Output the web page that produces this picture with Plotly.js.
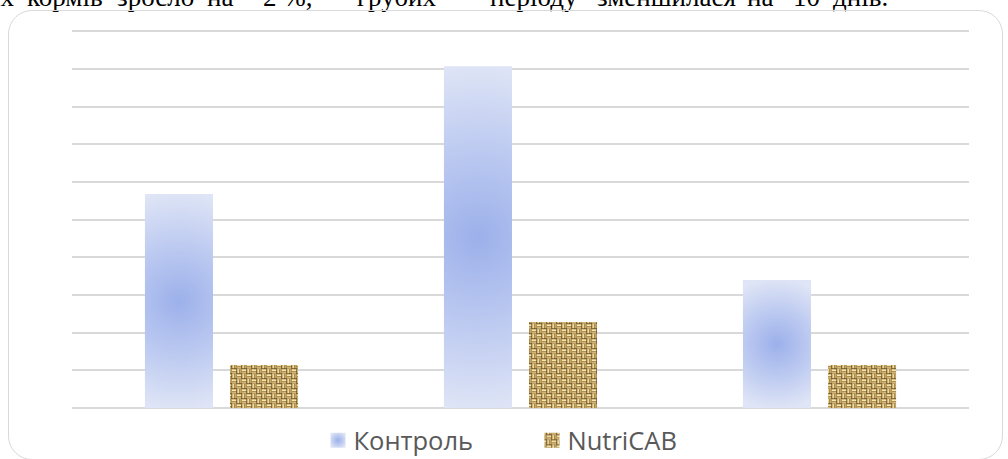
<!DOCTYPE html>
<html>
<head>
<meta charset="utf-8">
<script src="https://cdn.plot.ly/plotly-3.0.1.min.js"></script>
<style>
  html, body { margin:0; padding:0; background:#ffffff; width:1008px; height:459px; overflow:hidden; }
  #frame { position:absolute; left:8px; top:10px; width:993px; height:448px; border:1.6px solid #d9d9d9; border-radius:24px; box-sizing:content-box; }
  #chart { position:absolute; left:0; top:0; width:1008px; height:459px; }
  .w { position:absolute; top:-17px; font-family:"Liberation Serif","Times New Roman",serif; font-size:27px; line-height:28px; color:#000; white-space:pre; }
</style>
</head>
<body>
<div id="toptext"></div>
<div id="frame"></div>
<div id="chart"></div>
<script>
// ---- data ----
const categories = ['1', '2', '3'];
const seriesNames = ['Контроль', 'NutriCAB'];
const kontrol = [5.68, 9.07, 3.40];
const nutricab = [1.14, 2.28, 1.14];
const topWords = ['их', 'кормів', 'зросло', 'на', '2 %,', 'грубих', 'періоду', 'зменшилася', 'на', '10', 'днів.'];
const topWordX = [-14, 27, 117, 207, 263, 357, 490, 597, 747, 793, 833];

// cut-off line of body text above the chart
const tt = document.getElementById('toptext');
topWords.forEach((w, i) => {
  const s = document.createElement('div');
  s.className = 'w';
  s.style.left = topWordX[i] + 'px';
  s.textContent = w;
  tt.appendChild(s);
});

const traces = [
  { type: 'bar', name: seriesNames[0], x: categories, y: kontrol,
    marker: { color: '#bccaf0', line: { width: 0 } }, hoverinfo: 'none' },
  { type: 'bar', name: seriesNames[1], x: categories, y: nutricab,
    marker: { color: '#c4a467', line: { width: 0 } }, hoverinfo: 'none' }
];

const layout = {
  width: 1008, height: 459,
  margin: { l: 72, r: 39, t: 29, b: 51 },
  paper_bgcolor: 'rgba(0,0,0,0)',
  plot_bgcolor: 'rgba(0,0,0,0)',
  barmode: 'group',
  bargap: 0.431,
  bargroupgap: 0.2,
  showlegend: true,
  legend: {
    orientation: 'h', xref: 'container', yref: 'container',
    x: 0.311, xanchor: 'left', y: 0.04, yanchor: 'middle',
    font: { family: '"Open Sans", sans-serif', size: 25.5, color: '#595959' },
    entrywidth: 169, bgcolor: 'rgba(0,0,0,0)'
  },
  xaxis: { showticklabels: false, showgrid: false, zeroline: false, showline: false, ticks: '', fixedrange: true },
  yaxis: { range: [0, 10.06], tickvals: [0,1,2,3,4,5,6,7,8,9,10], showticklabels: false, showgrid: true, gridcolor: '#d9d9d9', gridwidth: 1.8,
           zeroline: true, zerolinecolor: '#d9d9d9', zerolinewidth: 1.8, showline: false, ticks: '', fixedrange: true }
};

const gd = document.getElementById('chart');
Plotly.newPlot(gd, traces, layout, { displayModeBar: false, staticPlot: true }).then(decorate);

function decorate() {
  const NS = 'http://www.w3.org/2000/svg';
  const svg = gd.querySelector('svg.main-svg');
  let defs = svg.querySelector('defs');
  if (!defs) { defs = document.createElementNS(NS, 'defs'); svg.insertBefore(defs, svg.firstChild); }

  function el(tag, attrs, parent) {
    const e = document.createElementNS(NS, tag);
    for (const k in attrs) e.setAttribute(k, attrs[k]);
    if (parent) parent.appendChild(e);
    return e;
  }
  function addStops(g) {
    el('stop', { offset: '0', 'stop-color': '#9cb0ea' }, g);
    el('stop', { offset: '0.45', 'stop-color': '#b9c7f0' }, g);
    el('stop', { offset: '1', 'stop-color': '#dfe5f6' }, g);
  }

  // burlap weave pattern
  const pat = el('pattern', { id: 'burlap', patternUnits: 'userSpaceOnUse', width: 8, height: 8, patternTransform: 'scale(1.25)' }, defs);
  el('rect', { x: 0, y: 0, width: 8, height: 8, fill: '#9a7a42' }, pat);
  [[0, 0], [4, 4]].forEach(([bx, by]) => {
    el('rect', { x: bx, y: by + 0.3, width: 4, height: 1.4, fill: '#f6e6ab' }, pat);
    el('rect', { x: bx, y: by + 2.3, width: 4, height: 1.4, fill: '#d3b677' }, pat);
    el('rect', { x: bx + 3.5, y: by, width: 0.5, height: 4, fill: '#57401e' }, pat);
  });
  [[4, 0], [0, 4]].forEach(([bx, by]) => {
    el('rect', { x: bx + 0.3, y: by, width: 1.4, height: 4, fill: '#eed99b' }, pat);
    el('rect', { x: bx + 2.3, y: by, width: 1.4, height: 4, fill: '#c4a564' }, pat);
    el('rect', { x: bx, y: by + 3.5, width: 4, height: 0.5, fill: '#57401e' }, pat);
  });

  const tr = gd.querySelectorAll('.barlayer .trace');
  if (tr[0]) {
    tr[0].querySelectorAll('path').forEach((p, i) => {
      const bb = p.getBBox();
      const g = el('radialGradient', {
        id: 'kgrad' + i, gradientUnits: 'userSpaceOnUse',
        cx: bb.x + bb.width / 2, cy: bb.y + bb.height / 2,
        r: Math.max(bb.height, bb.width) / 2 * 1.02
      }, defs);
      addStops(g);
      p.style.fill = 'url(#kgrad' + i + ')';
    });
  }
  if (tr[1]) {
    tr[1].querySelectorAll('path').forEach(p => { p.style.fill = 'url(#burlap)'; });
  }
  // legend swatches
  const lg = el('radialGradient', { id: 'kgradL', cx: '0.5', cy: '0.5', r: '0.6' }, defs);
  addStops(lg);
  const legTraces = gd.querySelectorAll('.legend .traces');
  legTraces.forEach((lt, k) => {
    lt.querySelectorAll('.legendpoints path').forEach(p => {
      p.setAttribute('transform', 'translate(24.5,0)');
      p.setAttribute('d', 'M7.5,7.5H-7.5V-7.5H7.5Z');
      p.style.fill = k === 0 ? 'url(#kgradL)' : 'url(#burlap)';
      p.style.stroke = 'none';
    });
  });
}
</script>
</body>
</html>
